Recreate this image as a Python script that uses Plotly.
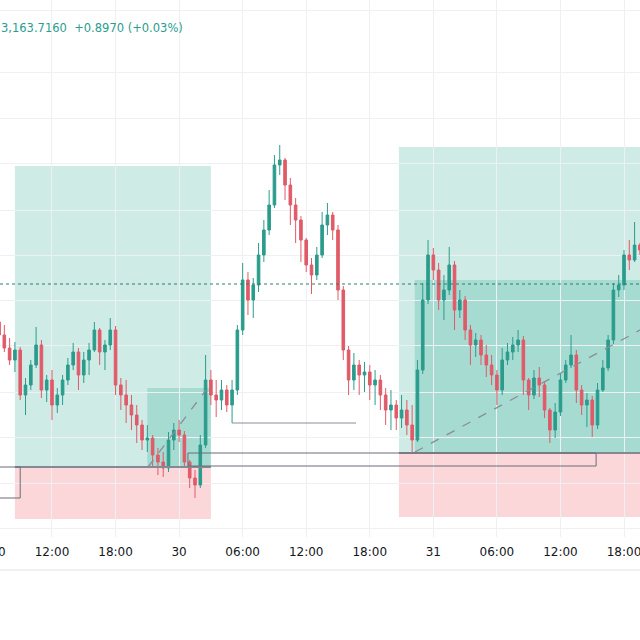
import pandas as pd
import plotly.graph_objects as go

# ---------------- data (30-minute candles) ----------------
start_time = "2023-10-29 07:00"
first_open = 3167.8
close = [3166.5, 3165.2, 3164.0, 3165.0, 3160.5, 3161.5, 3163.5, 3165.5, 3161.0, 3162.0,
         3159.5, 3160.5, 3162.0, 3163.5, 3164.8, 3162.5, 3164.0, 3165.0, 3167.0, 3164.8,
         3165.5, 3167.0, 3161.5, 3160.5, 3159.5, 3158.5, 3157.5, 3156.0, 3156.2, 3154.5,
         3153.8, 3153.2, 3156.0, 3157.0, 3156.5, 3153.8, 3152.2, 3151.5, 3155.5, 3162.0,
         3160.5, 3160.0, 3161.0, 3159.5, 3161.0, 3167.0, 3172.0, 3170.0, 3171.5, 3174.5,
         3177.0, 3179.5, 3183.5, 3184.0, 3181.5, 3179.5, 3178.0, 3176.0, 3173.5, 3172.5,
         3174.5, 3177.5, 3178.5, 3177.0, 3171.0, 3165.0, 3162.0, 3163.5, 3162.5, 3162.8,
         3161.5, 3162.0, 3160.5, 3159.0, 3159.5, 3158.2, 3159.0, 3157.5, 3156.0, 3163.0,
         3170.0, 3174.5, 3173.0, 3170.0, 3171.0, 3173.5, 3169.0, 3170.0, 3167.0, 3165.5,
         3166.0, 3164.5, 3163.5, 3162.5, 3161.0, 3164.0, 3164.8, 3165.5, 3166.0, 3162.0,
         3160.5, 3162.2, 3161.5, 3159.0, 3157.0, 3158.8, 3162.0, 3163.5, 3164.5, 3161.0,
         3159.5, 3160.0, 3157.5, 3161.0, 3163.2, 3166.0, 3171.0, 3171.5, 3174.5, 3174.0,
         3175.5, 3175.0]
high = [3168.4, 3167.5, 3166.2, 3165.8, 3165.3, 3162.2, 3164.0, 3167.3, 3166.0, 3162.5,
        3163.0, 3161.2, 3162.5, 3164.2, 3165.7, 3165.2, 3164.8, 3165.7, 3167.8, 3167.2,
        3166.0, 3168.2, 3167.4, 3162.2, 3162.0, 3160.5, 3159.5, 3158.0, 3157.5, 3156.5,
        3155.2, 3154.8, 3156.8, 3157.7, 3158.0, 3156.9, 3154.0, 3153.0, 3156.5, 3164.5,
        3163.0, 3162.0, 3162.0, 3161.5, 3162.0, 3167.5, 3173.7, 3172.8, 3172.2, 3175.7,
        3178.0, 3181.0, 3184.5, 3185.5, 3184.2, 3182.2, 3180.2, 3178.4, 3176.2, 3174.2,
        3175.3, 3178.8, 3179.7, 3178.8, 3177.5, 3171.4, 3165.4, 3164.7, 3164.0, 3163.8,
        3163.5, 3163.0, 3162.5, 3161.2, 3161.0, 3160.0, 3160.5, 3160.0, 3159.5, 3164.0,
        3171.7, 3176.0, 3175.2, 3173.7, 3172.5, 3175.3, 3173.9, 3171.0, 3170.4, 3167.5,
        3166.7, 3166.5, 3165.5, 3164.5, 3163.0, 3165.2, 3165.7, 3166.3, 3167.0, 3166.4,
        3162.2, 3163.0, 3163.3, 3161.9, 3159.2, 3159.7, 3162.7, 3164.0, 3166.5, 3165.0,
        3161.5, 3160.7, 3160.4, 3161.7, 3164.0, 3166.5, 3171.7, 3172.5, 3175.0, 3176.0,
        3177.8, 3175.7]
low = [3166.0, 3164.8, 3163.5, 3162.8, 3160.0, 3158.5, 3161.0, 3163.2, 3160.2, 3159.8,
       3158.0, 3158.7, 3159.5, 3161.5, 3163.0, 3161.0, 3161.7, 3162.5, 3164.8, 3163.5,
       3163.0, 3165.0, 3160.5, 3159.0, 3157.7, 3157.0, 3155.7, 3155.0, 3154.8, 3153.3,
       3152.5, 3152.3, 3152.8, 3155.0, 3155.8, 3153.2, 3151.2, 3150.2, 3151.2, 3155.2,
       3159.5, 3158.3, 3159.0, 3158.8, 3157.7, 3160.5, 3166.5, 3168.5, 3168.2, 3170.8,
       3173.8, 3176.5, 3179.2, 3182.5, 3180.0, 3177.5, 3175.7, 3173.8, 3172.8, 3170.6,
       3172.0, 3174.2, 3176.5, 3176.0, 3170.0, 3164.0, 3160.5, 3161.0, 3160.5, 3160.8,
       3160.0, 3159.5, 3159.0, 3157.5, 3157.0, 3157.0, 3157.2, 3156.5, 3154.7, 3155.8,
       3162.6, 3169.6, 3172.0, 3169.0, 3168.0, 3170.5, 3167.0, 3168.2, 3166.0, 3163.5,
       3164.3, 3163.5, 3162.3, 3161.5, 3159.5, 3160.5, 3163.5, 3164.0, 3164.8, 3160.5,
       3159.0, 3160.1, 3160.3, 3158.2, 3155.7, 3156.2, 3158.4, 3161.7, 3163.2, 3159.7,
       3158.5, 3157.3, 3156.3, 3157.1, 3160.8, 3162.9, 3165.6, 3170.3, 3171.0, 3173.0,
       3173.8, 3174.5]

tick_times = ["2023-10-29 12:00", "2023-10-29 18:00", "2023-10-30 00:00", "2023-10-30 06:00",
              "2023-10-30 12:00", "2023-10-30 18:00", "2023-10-31 00:00", "2023-10-31 06:00",
              "2023-10-31 12:00", "2023-10-31 18:00"]
tick_labels = ["12:00", "18:00", "30", "06:00", "12:00", "18:00", "31", "06:00", "12:00", "18:00"]

last_price = 3171.6
legend_text = "3,163.7160  +0.8970 (+0.03%)"

# ---------------- build ----------------
times = pd.date_range(start_time, periods=len(close), freq="30min")
opens = [first_open] + close[:-1]

UP = "#2b9c8c"
DOWN = "#e05a68"

fig = go.Figure()
fig.add_trace(go.Candlestick(
    x=times, open=opens, high=high, low=low, close=close,
    increasing=dict(line=dict(color=UP, width=1), fillcolor=UP),
    decreasing=dict(line=dict(color=DOWN, width=1), fillcolor=DOWN),
    whiskerwidth=0, showlegend=False, hoverinfo="skip",
))

G1 = "rgba(8,153,129,0.2)"
R1 = "rgba(242,54,69,0.2)"
shapes = []
# left long position
shapes.append(dict(type="rect", x0="2023-10-29 08:30", x1="2023-10-30 03:00", y0=3153.3, y1=3183.4,
                   fillcolor=G1, line_width=0, layer="below"))
shapes.append(dict(type="rect", x0="2023-10-29 08:30", x1="2023-10-30 03:00", y0=3148.1, y1=3153.3,
                   fillcolor=R1, line_width=0, layer="below"))
shapes.append(dict(type="rect", x0="2023-10-29 21:00", x1="2023-10-30 03:00", y0=3153.3, y1=3161.2,
                   fillcolor=G1, line_width=0, layer="below"))
# right long position
shapes.append(dict(type="rect", x0="2023-10-30 20:45", x1="2023-11-01 02:00", y0=3154.7, y1=3185.3,
                   fillcolor=G1, line_width=0, layer="below"))
shapes.append(dict(type="rect", x0="2023-10-30 20:45", x1="2023-11-01 02:00", y0=3148.3, y1=3154.7,
                   fillcolor=R1, line_width=0, layer="below"))
shapes.append(dict(type="rect", x0="2023-10-30 22:15", x1="2023-11-01 02:00", y0=3154.7, y1=3172.0,
                   fillcolor=G1, line_width=0, layer="below"))
# dashed progress lines
shapes.append(dict(type="line", x0="2023-10-29 21:04", x1="2023-10-30 02:32", y0=3153.3, y1=3161.0,
                   line=dict(color="#8a8e97", width=1.3, dash="dash")))
shapes.append(dict(type="line", x0="2023-10-30 22:16", x1="2023-10-31 21:00", y0=3154.8, y1=3167.85,
                   line=dict(color="#8a8e97", width=1.3, dash="dash")))
# entry lines
shapes.append(dict(type="line", x0="2023-10-29 08:30", x1="2023-10-30 03:00", y0=3153.3, y1=3153.3,
                   line=dict(color="#868993", width=2)))
shapes.append(dict(type="line", x0="2023-10-30 20:45", x1="2023-11-01 02:00", y0=3154.7, y1=3154.7,
                   line=dict(color="#868993", width=2)))
# outlined rectangles
shapes.append(dict(type="rect", x0="2023-10-29 04:00", x1="2023-10-29 09:00", y0=3150.2, y1=3153.3,
                   line=dict(color="#6a6d78", width=1), fillcolor="rgba(0,0,0,0)"))
shapes.append(dict(type="rect", x0="2023-10-30 00:50", x1="2023-10-31 15:22", y0=3153.4, y1=3154.7,
                   line=dict(color="#6a6d78", width=1), fillcolor="rgba(0,0,0,0)"))
# horizontal segment
shapes.append(dict(type="line", x0="2023-10-30 05:00", x1="2023-10-30 16:42", y0=3157.7, y1=3157.7,
                   line=dict(color="#8a8e97", width=1)))
# last price dotted line
shapes.append(dict(type="line", xref="paper", x0=0, x1=1, y0=last_price, y1=last_price,
                   line=dict(color="#2f7d70", width=1, dash="dot")))
# time-scale separator
shapes.append(dict(type="line", xref="paper", yref="paper", x0=0, x1=1, y0=-0.0615, y1=-0.0615,
                   line=dict(color="#e0e3eb", width=1)))

fig.update_layout(
    width=640, height=640,
    margin=dict(l=0, r=0, t=0, b=103),
    paper_bgcolor="white", plot_bgcolor="white",
    shapes=shapes,
    xaxis=dict(
        type="date", range=["2023-10-29 07:05:30", "2023-10-31 19:30:35"],
        tickvals=tick_times, ticktext=tick_labels,
        showgrid=True, gridcolor="#eef0f3", gridwidth=1,
        zeroline=False, showline=False, ticks="",
        tickfont=dict(family="DejaVu Sans", size=12, color="#131722"),
        ticklabelstandoff=6, ticklabeloverflow="allow",
        rangeslider=dict(visible=False), fixedrange=True,
    ),
    yaxis=dict(
        range=[3146.3, 3200.0],
        tickvals=[3199.0, 3192.8, 3188.2, 3183.7, 3179.0, 3174.5, 3170.0, 3165.5,
                  3160.8, 3156.3, 3151.7, 3147.2],
        showticklabels=False, showgrid=True, gridcolor="#eef0f3", gridwidth=1,
        zeroline=False, showline=False, ticks="",
    ),
    annotations=[
        dict(text=legend_text, xref="paper", yref="paper", x=-0.002, y=0.948,
             xanchor="left", yanchor="middle", showarrow=False,
             font=dict(family="DejaVu Sans", size=11.5, color="#2a9d8f")),
        dict(text="06:00", xref="paper", yref="paper", x=-11.6 / 640, y=-0.028,
             xanchor="center", yanchor="middle", showarrow=False,
             font=dict(family="DejaVu Sans", size=12, color="#131722")),
    ],
)

fig.write_html("out.html")
